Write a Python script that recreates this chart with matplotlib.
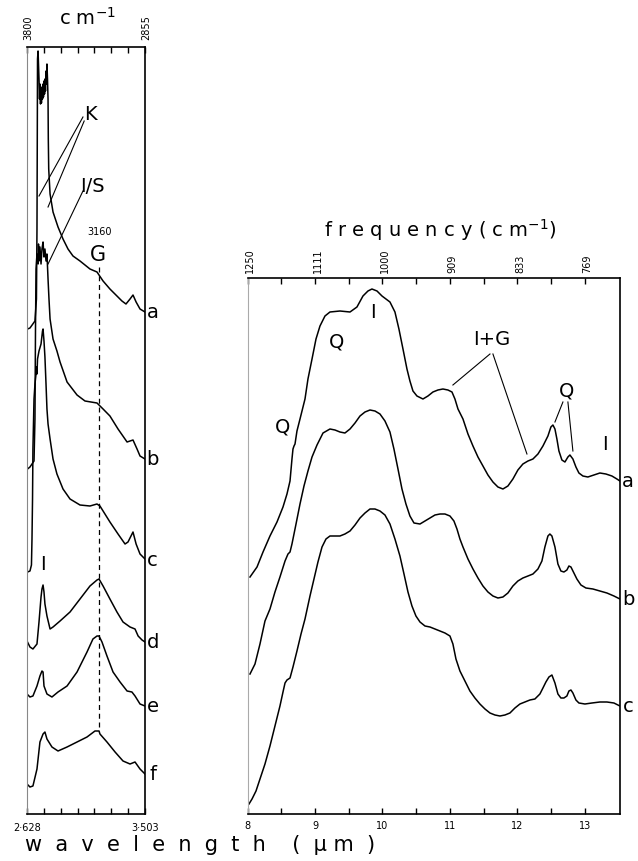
import numpy as np
import matplotlib.pyplot as plt

plt.rcParams['font.family'] = ['DejaVu Sans', 'Noto Sans']

# ---- left panel: 2.628 - 3.503 um (3800 - 2855 cm-1), arbitrary absorbance units
left_a_wl = [2.632, 2.650, 2.687, 2.698, 2.702, 2.704, 2.706, 2.710, 2.717, 2.721, 2.724, 2.728,
             2.732, 2.735, 2.739, 2.743, 2.747, 2.750, 2.754, 2.758, 2.761, 2.765, 2.769, 2.773,
             2.776, 2.780, 2.784, 2.786, 2.789, 2.799, 2.821, 2.858, 2.895, 2.932, 2.969, 3.021,
             3.058, 3.095, 3.147, 3.192, 3.243, 3.295, 3.332, 3.362, 3.392, 3.414, 3.437, 3.466, 3.503]
left_a_abs = [485, 486, 493, 515, 585, 665, 755, 763, 735, 715, 730, 710,
              727, 711, 725, 715, 730, 717, 733, 720, 735, 723, 743, 730,
              750, 735, 715, 675, 645, 620, 602, 587, 575, 565, 558, 553,
              549, 545, 542, 533, 525, 518, 513, 510, 515, 519, 512, 505, 502]

left_b_wl = [2.632, 2.650, 2.680, 2.687, 2.691, 2.695, 2.702, 2.710, 2.713, 2.717, 2.724, 2.732,
             2.739, 2.747, 2.754, 2.761, 2.769, 2.776, 2.784, 2.791, 2.799, 2.821, 2.850, 2.873,
             2.925, 2.999, 3.058, 3.147, 3.192, 3.243, 3.303, 3.370, 3.414, 3.444, 3.466, 3.503]
left_b_abs = [345, 347, 353, 395, 485, 545, 560, 550, 570, 553, 567, 550,
              565, 572, 557, 565, 553, 560, 535, 515, 495, 475, 463, 452,
              432, 419, 413, 411, 405, 398, 385, 372, 374, 365, 358, 355]

left_c_wl = [2.632, 2.650, 2.661, 2.665, 2.669, 2.672, 2.680, 2.687, 2.695, 2.698, 2.702, 2.706,
             2.717, 2.732, 2.743, 2.747, 2.754, 2.761, 2.769, 2.776, 2.784, 2.799, 2.821, 2.850,
             2.895, 2.947, 3.021, 3.095, 3.147, 3.169, 3.206, 3.243, 3.303, 3.355, 3.377, 3.414,
             3.437, 3.466, 3.503]
left_c_abs = [242, 243, 249, 275, 315, 365, 415, 430, 440, 447, 440, 455,
              463, 470, 483, 485, 473, 457, 430, 405, 390, 375, 355, 340,
              325, 315, 309, 308, 310, 308, 300, 292, 280, 270, 272, 282,
              270, 260, 255]

left_d_wl = [2.628, 2.650, 2.672, 2.702, 2.717, 2.732, 2.739, 2.747, 2.754, 2.761, 2.776, 2.799,
             2.821, 2.873, 2.947, 3.021, 3.095, 3.147, 3.162, 3.192, 3.243, 3.295, 3.340, 3.392,
             3.429, 3.452, 3.481, 3.503]
left_d_abs = [173, 167, 165, 170, 192, 217, 225, 229, 222, 210, 198, 185,
              187, 193, 202, 215, 228, 234, 235, 228, 215, 202, 192, 187,
              185, 178, 174, 172]

left_e_wl = [2.628, 2.650, 2.672, 2.702, 2.724, 2.739, 2.747, 2.754, 2.776, 2.813, 2.858, 2.925,
             2.999, 3.073, 3.117, 3.147, 3.162, 3.184, 3.221, 3.266, 3.318, 3.370, 3.406, 3.429,
             3.466, 3.503]
left_e_abs = [120, 117, 118, 128, 138, 143, 142, 128, 120, 117, 122, 128,
              142, 162, 175, 178, 178, 172, 158, 142, 132, 123, 122, 118,
              110, 108]

left_f_wl = [2.628, 2.650, 2.672, 2.702, 2.724, 2.747, 2.761, 2.776, 2.813, 2.858, 2.925, 2.999,
             3.073, 3.132, 3.162, 3.169, 3.221, 3.281, 3.340, 3.392, 3.429, 3.466, 3.503]
left_f_abs = [30, 27, 28, 45, 72, 80, 82, 75, 67, 63, 67, 72,
              77, 83, 83, 80, 72, 62, 53, 50, 52, 45, 40]

left_names = ['a', 'b', 'c', 'd', 'e', 'f']
left_end_abs = [502, 355, 255, 172, 108, 40]

# ---- right panel: 8 - 13.5 um
right_a_wl = [8.037, 8.141, 8.230, 8.333, 8.437, 8.526, 8.585, 8.630, 8.659, 8.674, 8.689, 8.704,
              8.733, 8.778, 8.852, 8.896, 8.956, 9.015, 9.074, 9.148, 9.222, 9.370, 9.519, 9.622,
              9.711, 9.785, 9.844, 9.919, 9.993, 10.111, 10.185, 10.244, 10.304, 10.363, 10.407,
              10.452, 10.511, 10.600, 10.674, 10.748, 10.822, 10.896, 10.970, 11.030, 11.074,
              11.119, 11.193, 11.267, 11.341, 11.415, 11.489, 11.563, 11.637, 11.711, 11.785,
              11.859, 11.933, 12.007, 12.081, 12.156, 12.230, 12.304, 12.378, 12.452, 12.496,
              12.526, 12.556, 12.585, 12.615, 12.659, 12.704, 12.748, 12.778, 12.822, 12.867,
              12.911, 12.970, 13.044, 13.133, 13.222, 13.311, 13.400, 13.474, 13.519]
right_a_abs = [237, 247, 262, 278, 292, 307, 320, 333, 355, 365, 368, 370,
               383, 395, 415, 435, 455, 475, 488, 498, 502, 503, 502, 507,
               518, 523, 525, 523, 518, 512, 502, 485, 465, 445, 433,
               423, 418, 415, 418, 422, 424, 425, 424, 422, 415,
               405, 395, 380, 368, 357, 348, 339, 332, 327, 325,
               328, 335, 344, 350, 353, 355, 360, 368, 378, 387,
               389, 385, 375, 363, 354, 352, 357, 359, 355, 347,
               341, 338, 337, 339, 341, 340, 338, 335, 333]

right_b_wl = [8.037, 8.111, 8.185, 8.259, 8.333, 8.407, 8.481, 8.556, 8.600, 8.630, 8.659, 8.719,
              8.778, 8.837, 8.896, 8.956, 9.030, 9.119, 9.222, 9.296, 9.370, 9.444, 9.519, 9.593,
              9.667, 9.741, 9.815, 9.889, 9.963, 10.037, 10.111, 10.170, 10.230, 10.289, 10.348,
              10.407, 10.467, 10.556, 10.630, 10.704, 10.778, 10.852, 10.926, 11.000, 11.059,
              11.104, 11.148, 11.193, 11.267, 11.341, 11.415, 11.489, 11.563, 11.637, 11.711,
              11.785, 11.859, 11.933, 12.007, 12.081, 12.156, 12.230, 12.304, 12.363, 12.407,
              12.452, 12.481, 12.511, 12.556, 12.600, 12.644, 12.689, 12.733, 12.763, 12.793,
              12.837, 12.881, 12.941, 13.015, 13.119, 13.222, 13.326, 13.430, 13.519]
right_b_abs = [140, 150, 170, 193, 205, 222, 237, 253, 260, 262, 270, 290,
               310, 328, 343, 357, 369, 381, 385, 384, 382, 381, 385, 391,
               398, 402, 404, 403, 400, 393, 382, 365, 345, 325, 310,
               298, 291, 290, 293, 296, 299, 300, 300, 298, 293,
               285, 275, 267, 255, 245, 236, 228, 222, 218, 216,
               217, 221, 228, 233, 236, 238, 240, 245, 253, 267,
               278, 280, 278, 267, 250, 243, 242, 244, 248, 247,
               241, 235, 229, 226, 225, 223, 221, 218, 215]

right_c_wl = [8.022, 8.067, 8.126, 8.185, 8.259, 8.333, 8.407, 8.481, 8.526, 8.556, 8.585, 8.630,
              8.674, 8.733, 8.793, 8.852, 8.926, 8.985, 9.044, 9.104, 9.163, 9.222, 9.296, 9.370,
              9.444, 9.519, 9.593, 9.667, 9.741, 9.815, 9.889, 9.963, 10.037, 10.111, 10.185,
              10.259, 10.319, 10.378, 10.437, 10.496, 10.556, 10.630, 10.704, 10.778, 10.852,
              10.926, 11.000, 11.044, 11.089, 11.148, 11.222, 11.296, 11.370, 11.444, 11.519,
              11.593, 11.667, 11.741, 11.815, 11.889, 11.963, 12.037, 12.111, 12.185, 12.259,
              12.333, 12.378, 12.422, 12.467, 12.511, 12.556, 12.600, 12.644, 12.689, 12.733,
              12.763, 12.793, 12.822, 12.867, 12.911, 13.000, 13.104, 13.222, 13.326, 13.430, 13.519]
right_c_abs = [10, 15, 23, 35, 50, 68, 88, 108, 122, 131, 134, 136,
               147, 163, 180, 195, 218, 235, 252, 267, 275, 278, 278, 278,
               280, 283, 289, 296, 301, 305, 305, 303, 299, 290, 275,
               258, 240, 222, 208, 198, 192, 188, 187, 185, 183,
               181, 178, 170, 155, 143, 133, 123, 116, 110, 105,
               101, 99, 98, 99, 101, 106, 110, 112, 114, 115,
               120, 126, 132, 137, 139, 131, 120, 116, 116, 118,
               123, 124, 121, 114, 111, 110, 111, 112, 112, 111, 108]

right_names = ['a', 'b', 'c']
right_end_abs = [333, 215, 108]

left_ticks_um = [2.628, 3.503]
left_top_labels = ['3800', '2855']
left_bottom_labels = ['2\u00b7628', '3\u00b7503']
right_ticks_um = [8, 9, 10, 11, 12, 13]
right_top_labels = ['1250', '1111', '1000', '909', '833', '769']
g_band_cm = 3160

lw = 1.1
fig = plt.figure(figsize=(6.38, 8.62), dpi=100)

# left panel
ax1 = fig.add_axes([27/638, 47/862, 118/638, 767/862])
for wl, ab in [(left_a_wl, left_a_abs), (left_b_wl, left_b_abs), (left_c_wl, left_c_abs),
               (left_d_wl, left_d_abs), (left_e_wl, left_e_abs), (left_f_wl, left_f_abs)]:
    ax1.plot(wl, ab, color='black', lw=lw)
ax1.set_xlim(2.628, 3.503)
ax1.set_ylim(0, 767)
ax1.set_yticks([])
ax1.set_xticks(np.linspace(2.628, 3.503, 8))
ax1.set_xticklabels([])
ax1.tick_params(axis='x', which='both', direction='in', top=True, length=4, width=1)
ax1.spines['left'].set_color('#888888')
ax1.spines['left'].set_linestyle((0, (2, 1)))
ax1.spines['left'].set_linewidth(0.8)
for s in ['top', 'bottom', 'right']:
    ax1.spines[s].set_linewidth(1.2)

for x, lab in zip(left_ticks_um, left_bottom_labels):
    ax1.text(x, -8, lab, ha='center', va='top', fontsize=7)
for x, lab in zip(left_ticks_um, left_top_labels):
    ax1.text(x + 0.012, 775, lab, ha='center', va='bottom', rotation=90, fontsize=7)

g_wl = 1e4 / g_band_cm
ax1.plot([g_wl, g_wl], [547, 83], color='black', lw=0.9, ls=(0, (4, 3)))
ax1.text(g_wl + 0.005, 583, '3160', ha='center', va='center', fontsize=7)
ax1.text(g_wl - 0.008, 560, 'G', ha='center', va='center', fontsize=15)

ax1.text(3.095, 700, 'K', ha='center', va='center', fontsize=14)
ax1.plot([3.043, 2.717], [697, 618], color='black', lw=0.8)
ax1.plot([3.052, 2.784], [693, 607], color='black', lw=0.8)
ax1.text(3.115, 628, 'I/S', ha='center', va='center', fontsize=14)
ax1.plot([3.043, 2.784], [623, 550], color='black', lw=0.8)
ax1.text(2.747, 250, 'I', ha='center', va='center', fontsize=14)

for name, y in zip(left_names, left_end_abs):
    ax1.text(3.56, y, name, ha='center', va='center', fontsize=14, clip_on=False)

# right panel
ax2 = fig.add_axes([247.5/638, 47/862, 372.5/638, 536/862])
for wl, ab in [(right_a_wl, right_a_abs), (right_b_wl, right_b_abs), (right_c_wl, right_c_abs)]:
    ax2.plot(wl, ab, color='black', lw=lw)
ax2.set_xlim(8, 13.52)
ax2.set_ylim(0, 536)
ax2.set_yticks([])
ax2.set_xticks(right_ticks_um)
ax2.set_xticklabels([str(t) for t in right_ticks_um], fontsize=7)
ax2.set_xticks(np.arange(8.5, 13.5, 1.0), minor=True)
ax2.tick_params(axis='x', which='both', direction='in', top=True, length=4, width=1, pad=4)
ax2.spines['left'].set_color('#aaaaaa')
ax2.spines['left'].set_linewidth(0.8)
for s in ['top', 'bottom', 'right']:
    ax2.spines[s].set_linewidth(1.2)

for x, lab in zip(right_ticks_um, right_top_labels):
    ax2.text(x + 0.04, 542, lab, ha='center', va='bottom', rotation=90, fontsize=7)

ax2.text(8.526, 388, 'Q', ha='center', va='center', fontsize=14)
ax2.text(9.326, 473, 'Q', ha='center', va='center', fontsize=14)
ax2.text(9.859, 502, 'I', ha='center', va='center', fontsize=14)
ax2.text(11.622, 475, 'I+G', ha='center', va='center', fontsize=14)
ax2.plot([11.593, 11.044], [460, 429], color='black', lw=0.8)
ax2.plot([11.637, 12.141], [460, 360], color='black', lw=0.8)
ax2.text(12.733, 424, 'Q', ha='center', va='center', fontsize=14)
ax2.plot([12.674, 12.556], [412, 392], color='black', lw=0.8)
ax2.plot([12.748, 12.822], [412, 363], color='black', lw=0.8)
ax2.text(13.296, 370, 'I', ha='center', va='center', fontsize=14)

for name, y in zip(right_names, right_end_abs):
    ax2.text(13.64, y, name, ha='center', va='center', fontsize=14, clip_on=False)

fig.text(87/638, 1 - 18/862, 'c m$^{-1}$', ha='center', va='center', fontsize=14)
fig.text(440/638, 1 - 230/862, 'f r e q u e n c y ( c m$^{-1}$)', ha='center', va='center', fontsize=14)
fig.text(200/638, 1 - 845/862, 'w  a  v  e  l  e  n  g  t  h    (  \u03bc m  )',
         ha='center', va='center', fontsize=15)

plt.savefig('out.png', dpi=100)
